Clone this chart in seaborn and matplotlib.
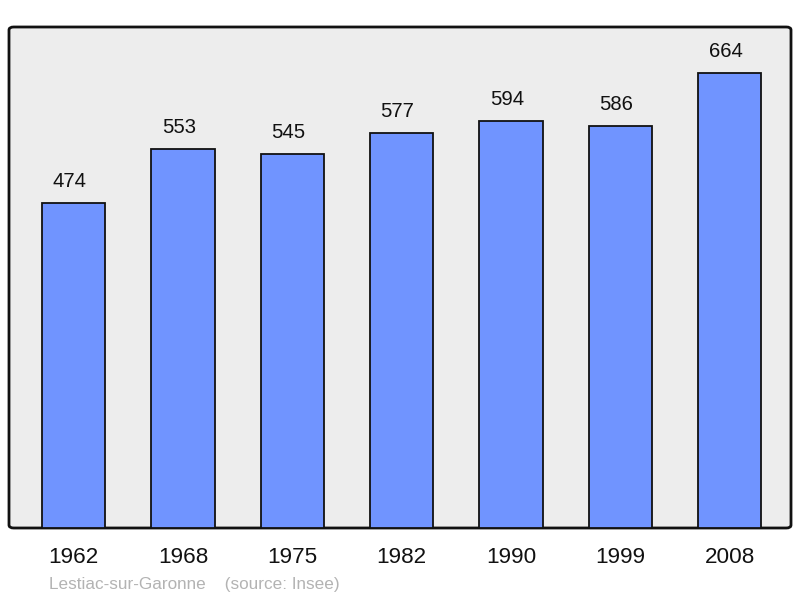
import matplotlib
matplotlib.use("Agg")
import matplotlib.pyplot as plt
from matplotlib.patches import FancyBboxPatch
import seaborn as sns

years = ["1962", "1968", "1975", "1982", "1990", "1999", "2008"]
population = [474, 553, 545, 577, 594, 586, 664]

sns.set_style("white")
plt.rcParams['font.family'] = ['Liberation Sans', 'DejaVu Sans']

fig = plt.figure(figsize=(8, 5.98), dpi=100)
ax = fig.add_axes([9 / 800, 70 / 598, 782 / 800, 501 / 598])
ax.set_facecolor("none")

# fond arrondi
bg = FancyBboxPatch((0, 0), 1, 1, boxstyle="round,pad=0,rounding_size=0.006",
                    transform=ax.transAxes, facecolor="#ededed",
                    edgecolor="#111111", linewidth=2, zorder=0, clip_on=False)
ax.add_patch(bg)

sns.barplot(x=years, y=population, color="#7094ff", saturation=1,
            width=0.58, edgecolor="#111111", linewidth=1.3, ax=ax, zorder=2)

for i, v in enumerate(population):
    ax.annotate(str(v), (i, v), xytext=(-3, 15.5), textcoords="offset points",
                ha="center", va="center", fontsize=14.6, color="#111111")

ax.set_xlim(-0.59, 6.56)
ax.set_ylim(0, 731)
ax.set_yticks([])
ax.set_xlabel("")
ax.set_ylabel("")
for s in ax.spines.values():
    s.set_visible(False)
ax.tick_params(axis="x", length=0, pad=14, labelsize=16.2, labelcolor="#111111")

fig.text(49 / 800, 13.5 / 598, "Lestiac-sur-Garonne    (source: Insee)",
         fontsize=12.3, color="#b3b3b3", va="center", ha="left")

fig.savefig("out.png", dpi=100, facecolor="white")
